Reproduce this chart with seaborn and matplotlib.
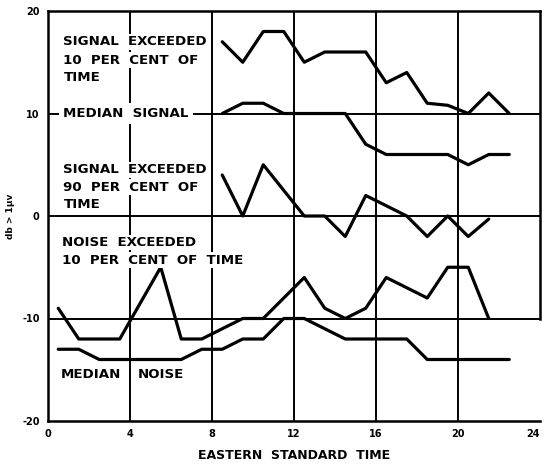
import matplotlib
matplotlib.use("Agg")
import matplotlib.pyplot as plt
import seaborn as sns
import pandas as pd

# Hourly field-strength statistics (db above 1 microvolt) versus Eastern Standard Time
sig_hours = [8.5, 9.5, 10.5, 11.5, 12.5, 13.5, 14.5, 15.5, 16.5, 17.5, 18.5, 19.5, 20.5, 21.5, 22.5]
signal_10pct = [17, 15, 18, 18, 15, 16, 16, 16, 13, 14, 11, 10.8, 10, 12, 10]
signal_median = [10, 11, 11, 10, 10, 10, 10, 7, 6, 6, 6, 6, 5, 6, 6]

sig90_hours = [8.5, 9.5, 10.5, 11.5, 12.5, 13.5, 14.5, 15.5, 16.5, 17.5, 18.5, 19.5, 20.5, 21.5]
signal_90pct = [4, 0, 5, 2.5, 0, 0, -2, 2, 1, 0, -2, 0, -2, -0.3]

noise10_hours = [0.5, 1.5, 2.5, 3.5, 4.5, 5.5, 6.5, 7.5, 8.5, 9.5, 10.5,
                 11.5, 12.5, 13.5, 14.5, 15.5, 16.5, 17.5, 18.5, 19.5, 20.5, 21.5]
noise_10pct = [-9, -12, -12, -12, -8.5, -5, -12, -12, -11, -10, -10,
               -8, -6, -9, -10, -9, -6, -7, -8, -5, -5, -10]

noise_med_hours = [0.5, 1.5, 2.5, 3.5, 4.5, 5.5, 6.5, 7.5, 8.5, 9.5, 10.5, 11.5,
                   12.5, 13.5, 14.5, 15.5, 16.5, 17.5, 18.5, 19.5, 20.5, 21.5, 22.5]
noise_median = [-13, -13, -14, -14, -14, -14, -14, -13, -13, -12, -12, -10,
                -10, -11, -12, -12, -12, -12, -14, -14, -14, -14, -14]

x_ticks = [0, 4, 8, 12, 16, 20, 24]
y_ticks = [-20, -10, 0, 10, 20]
y_tick_labels = ["-20", "-10", "0", "10", "20"]

sns.set_style("white")
plt.rcParams["font.family"] = ["DejaVu Sans"]
plt.rcParams["text.color"] = "black"
plt.rcParams["axes.labelcolor"] = "black"
plt.rcParams["xtick.color"] = "black"
plt.rcParams["ytick.color"] = "black"

fig = plt.figure(figsize=(5.44, 4.66), dpi=100)
ax = fig.add_axes([48 / 544, 1 - 421 / 466, 492 / 544, 410 / 466])

# grid lines at the tick positions
for xv in x_ticks[1:-1]:
    ax.axvline(xv, color="black", lw=1.4, zorder=1)
for yv in y_ticks[1:-1]:
    ax.axhline(yv, color="black", lw=1.4, zorder=1)

series = [
    (sig_hours, signal_10pct),
    (sig_hours, signal_median),
    (sig90_hours, signal_90pct),
    (noise10_hours, noise_10pct),
    (noise_med_hours, noise_median),
]
for xs, ys in series:
    df = pd.DataFrame({"hour": xs, "db": ys})
    sns.lineplot(data=df, x="hour", y="db", ax=ax, color="black", lw=2.3,
                 zorder=3, estimator=None, sort=False)

ax.set_xlim(0, 24)
ax.set_ylim(-20, 20)
ax.set_xticks(x_ticks)
ax.set_xticklabels([str(v) for v in x_ticks], fontsize=7, fontweight="bold")
ax.get_xticklabels()[-1].set_horizontalalignment("right")
ax.set_yticks(y_ticks)
ax.set_yticklabels(y_tick_labels, fontsize=7, fontweight="bold")
ax.tick_params(axis="both", length=0, pad=6)

for side in ["left", "bottom", "top", "right"]:
    ax.spines[side].set_color("black")
    ax.spines[side].set_linewidth(1.8)
ax.spines["right"].set_bounds(-10, 20)

ax.set_xlabel("EASTERN  STANDARD  TIME", fontsize=9, fontweight="bold", labelpad=7)
ax.set_ylabel("db > 1\u03bcv", fontsize=6.5, fontweight="bold", labelpad=5)

box = dict(boxstyle="square,pad=0.1", fc="white", ec="none")
label_kw = dict(fontsize=9.6, fontweight="bold", va="center", ha="left", zorder=4)

ax.text(0.75, 17.0, "SIGNAL  EXCEEDED", bbox=box, **label_kw)
ax.text(0.75, 15.2, "10  PER  CENT  OF", bbox=box, **label_kw)
ax.text(0.75, 13.5, "TIME", bbox=box, **label_kw)

ax.text(0.75, 10.0, "MEDIAN  SIGNAL", bbox=dict(boxstyle="square,pad=0.3", fc="white", ec="none"), **label_kw)

ax.text(0.75, 4.5, "SIGNAL  EXCEEDED", bbox=box, **label_kw)
ax.text(0.75, 2.8, "90  PER  CENT  OF", bbox=box, **label_kw)
ax.text(0.75, 1.1, "TIME", bbox=box, **label_kw)

ax.text(0.7, -2.6, "NOISE  EXCEEDED", bbox=box, **label_kw)
ax.text(0.7, -4.3, "10  PER  CENT  OF  TIME", bbox=box, **label_kw)

ax.text(0.6, -15.5, "MEDIAN", **label_kw)
ax.text(4.4, -15.5, "NOISE", **label_kw)

fig.savefig("out.png", dpi=100)
